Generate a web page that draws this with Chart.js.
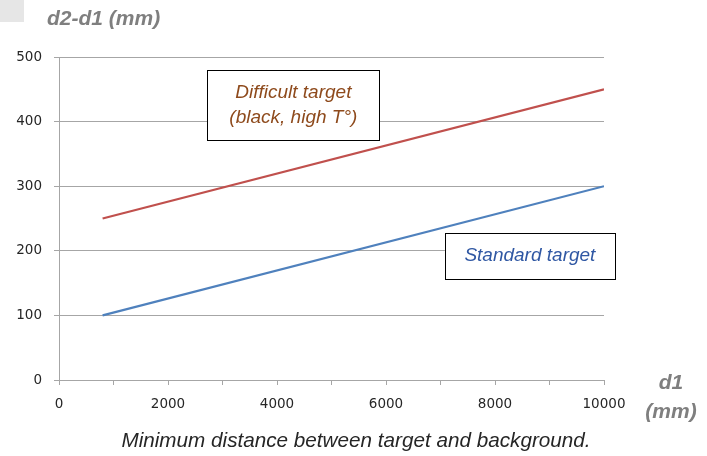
<!DOCTYPE html>
<html>
<head>
<meta charset="utf-8">
<script src="https://cdn.jsdelivr.net/npm/chart.js@4"></script>
<style>
  html, body { margin: 0; padding: 0; background: #fff; }
  #wrap { width: 707px; height: 456px; position: relative; }
</style>
</head>
<body>
<div id="wrap"><canvas id="chart" width="707" height="456"></canvas></div>
<script>
// --- data ---
const d1Values = [800, 10000];
const difficultValues = [250, 450];
const standardValues = [100, 300];
const xTicks = [0, 2000, 4000, 6000, 8000, 10000];
const yTicks = [0, 100, 200, 300, 400, 500];

const toPoints = (xs, ys) => xs.map((x, i) => ({ x, y: ys[i] }));

// notes drawn as boxed labels, anchored in data coordinates
const notes = [
  { lines: ['Difficult target', '(black, high T°)'], x: 4300, y: 425, w: 172, h: 70, color: '#8e4a1c' },
  { lines: ['Standard target'], x: 8640, y: 192, w: 170, h: 46, color: '#2f57a3' }
];

const tickFont = { family: '"DejaVu Sans", sans-serif', size: 13.5 };

const extras = {
  id: 'extras',
  afterDraw(chart) {
    const { ctx, scales: { x, y } } = chart;
    ctx.save();
    // small gray square top left
    ctx.fillStyle = '#e6e6e6';
    ctx.fillRect(0, 0, 24, 22);

    // axis titles
    ctx.fillStyle = '#7f7f7f';
    ctx.font = 'italic bold 21px "Liberation Sans", Arial, sans-serif';
    ctx.textBaseline = 'middle';
    ctx.textAlign = 'left';
    ctx.fillText('d2-d1 (mm)', 47, 19);
    ctx.textAlign = 'center';
    ctx.fillText('d1', 671, 383);
    ctx.fillText('(mm)', 671, 412);

    // caption
    ctx.fillStyle = '#262626';
    ctx.font = 'italic 20.7px "Liberation Sans", Arial, sans-serif';
    ctx.fillText('Minimum distance between target and background.', 356, 441);

    // boxed notes
    notes.forEach(n => {
      const cx = x.getPixelForValue(n.x);
      const cy = y.getPixelForValue(n.y);
      const left = cx - n.w / 2, top = cy - n.h / 2;
      ctx.fillStyle = '#fff';
      ctx.fillRect(left, top, n.w, n.h);
      ctx.strokeStyle = '#000';
      ctx.lineWidth = 1;
      ctx.strokeRect(Math.round(left) + 0.5, Math.round(top) + 0.5, n.w, n.h);
      ctx.fillStyle = n.color;
      ctx.font = 'italic 19px "Liberation Sans", Arial, sans-serif';
      const lh = 25;
      n.lines.forEach((t, i) => {
        ctx.fillText(t, cx, cy + (i - (n.lines.length - 1) / 2) * lh);
      });
    });
    ctx.restore();
  }
};

new Chart(document.getElementById('chart'), {
  type: 'line',
  data: {
    datasets: [
      {
        label: 'Difficult target',
        data: toPoints(d1Values, difficultValues),
        borderColor: '#c0504d',
        borderWidth: 2.2,
        pointRadius: 0,
        fill: false
      },
      {
        label: 'Standard target',
        data: toPoints(d1Values, standardValues),
        borderColor: '#4f81bd',
        borderWidth: 2.2,
        pointRadius: 0,
        fill: false
      }
    ]
  },
  options: {
    responsive: false,
    animation: false,
    layout: { padding: { top: 57, right: 103, left: 0, bottom: 0 } },
    plugins: { legend: { display: false }, tooltip: { enabled: false } },
    scales: {
      x: {
        type: 'linear',
        min: 0,
        max: 10000,
        afterBuildTicks: axis => {
          const t = [];
          for (let v = 0; v <= 10000; v += 1000) t.push({ value: v });
          axis.ticks = t;
        },
        afterFit: axis => { axis.height = 76; },
        border: { color: '#a6a6a6', width: 1 },
        grid: { drawOnChartArea: false, drawTicks: true, tickLength: 5, color: '#a6a6a6' },
        ticks: {
          maxRotation: 0,
          autoSkip: false,
          padding: 11,
          color: '#262626',
          font: tickFont,
          callback: v => xTicks.includes(v) ? String(v) : ''
        }
      },
      y: {
        min: 0,
        max: 500,
        afterBuildTicks: axis => { axis.ticks = yTicks.map(v => ({ value: v })); },
        afterFit: axis => { axis.width = 59; },
        border: { color: '#a6a6a6', width: 1 },
        grid: { color: '#a6a6a6', tickLength: 5, drawTicks: true },
        ticks: {
          padding: 12,
          color: '#262626',
          font: tickFont
        }
      }
    }
  },
  plugins: [extras]
});
</script>
</body>
</html>
